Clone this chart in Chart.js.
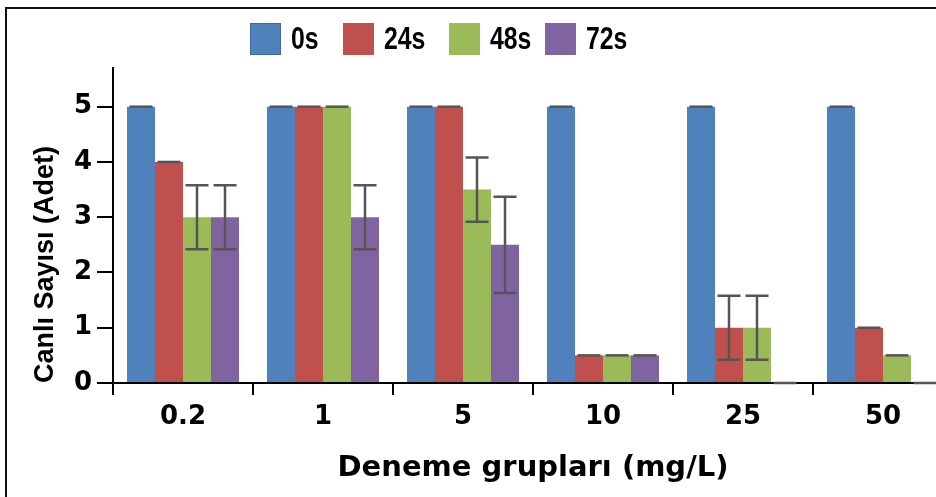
<!DOCTYPE html>
<html>
<head>
<meta charset="utf-8">
<script src="https://cdn.jsdelivr.net/npm/chart.js@4"></script>
<style>
  html, body { margin: 0; padding: 0; background: #fff; }
  #wrap { position: relative; width: 936px; height: 497px; overflow: hidden; background: #fff; }
  #frame { position: absolute; left: 5px; top: 7px; width: 1000px; height: 600px;
           border-left: 2.5px solid #111; border-top: 2.5px solid #111; pointer-events: none; }
  #chart { position: absolute; left: 0; top: 0; }
  .key { position: absolute; top: 23px; height: 32px; display: flex; align-items: center;
         font-family: "Liberation Sans Narrow", "Liberation Sans", Arial, sans-serif;
         font-weight: bold; font-size: 31px; color: #000; white-space: nowrap; }
  .key .box { display: inline-block; width: 31px; height: 32px; margin-right: 10px; box-sizing: border-box; }
  /* squeeze the labels into a narrow face */
  .key .name { display: inline-block; transform: scaleX(0.8); transform-origin: left center; }
</style>
</head>
<body>
<div id="wrap">
  <canvas id="chart" width="960" height="497"></canvas>
  <div id="legend"></div>
  <div id="frame"></div>
</div>
<script>
// concentration groups on the x axis
const groups = ['0.2', '1', '5', '10', '25', '50'];

// sampling times
const seriesNames = ['0s', '24s', '48s', '72s'];
const seriesColors = ['#4F81BD', '#C0504D', '#9BBB59', '#8064A2'];

// mean survivors per group
const alive0 = [5, 5, 5, 5, 5, 5];
const alive24 = [4, 5, 5, 0.5, 1, 1];
const alive48 = [3, 5, 3.5, 0.5, 1, 0.5];
const alive72 = [3, 3, 2.5, 0.5, 0, 0];

// standard errors
const err0 = [0, 0, 0, 0, 0, 0];
const err24 = [0, 0, 0, 0, 0.58, 0];
const err48 = [0.58, 0, 0.58, 0, 0.58, 0];
const err72 = [0.58, 0.58, 0.87, 0, 0, 0];

const yTicks = [0, 1, 2, 3, 4, 5];

const values = [alive0, alive24, alive48, alive72];
const errors = [err0, err24, err48, err72];

// --- legend (html, above the plot) ---
const legendLeft = [250, 343, 449, 545];
const legendEl = document.getElementById('legend');
seriesNames.forEach((name, i) => {
  const item = document.createElement('div');
  item.className = 'key';
  item.style.left = legendLeft[i] + 'px';
  const box = document.createElement('span');
  box.className = 'box';
  box.style.background = seriesColors[i];
  if (i === 0) box.style.border = '1.5px solid #3B6AA3';
  const txt = document.createElement('span');
  txt.className = 'name';
  txt.textContent = name;
  item.appendChild(box);
  item.appendChild(txt);
  legendEl.appendChild(item);
});

// --- error bars, drawn on top of each bar ---
const errorBars = {
  id: 'errorBars',
  afterDatasetsDraw(chart) {
    const ctx = chart.ctx;
    const yScale = chart.scales.y;
    ctx.save();
    ctx.strokeStyle = '#555555';
    ctx.lineWidth = 2.5;
    chart.data.datasets.forEach((ds, i) => {
      const meta = chart.getDatasetMeta(i);
      meta.data.forEach((bar, j) => {
        const v = ds.data[j];
        const e = ds.errors[j];
        const half = 11.5;
        const top = yScale.getPixelForValue(v + e);
        const bottom = yScale.getPixelForValue(v - e);
        ctx.beginPath();
        if (e > 0) {
          ctx.moveTo(bar.x, top);
          ctx.lineTo(bar.x, bottom);
          ctx.moveTo(bar.x - half, bottom);
          ctx.lineTo(bar.x + half, bottom);
        }
        ctx.moveTo(bar.x - half, top);
        ctx.lineTo(bar.x + half, top);
        ctx.stroke();
      });
    });
    ctx.restore();
  }
};

const tickFont = { family: '"DejaVu Sans", sans-serif', size: 26, weight: 'bold' };

const ctx = document.getElementById('chart').getContext('2d');
new Chart(ctx, {
  type: 'bar',
  data: {
    labels: groups,
    datasets: seriesNames.map((name, i) => ({
      label: name,
      data: values[i],
      errors: errors[i],
      backgroundColor: seriesColors[i],
      borderWidth: 0,
      categoryPercentage: 0.8,
      barPercentage: 1.0
    }))
  },
  options: {
    responsive: false,
    animation: false,
    layout: { padding: { top: 68, left: 0, right: 7, bottom: 0 } },
    plugins: {
      legend: { display: false },
      tooltip: { enabled: false }
    },
    scales: {
      x: {
        offset: true,
        afterFit: (scale) => { scale.height = 114; },
        grid: { offset: true, drawOnChartArea: false, drawTicks: true, tickLength: 12, color: '#000', lineWidth: 2 },
        border: { color: '#000', width: 2 },
        ticks: { color: '#000', font: tickFont, padding: 7 },
        title: {
          display: true,
          text: 'Deneme grupları (mg/L)',
          color: '#000',
          font: { family: '"DejaVu Sans", sans-serif', size: 29, weight: 'bold' },
          padding: { top: 0, bottom: 11 }
        }
      },
      y: {
        min: 0,
        max: 5.7,
        afterFit: (scale) => { scale.width = 113; },
        afterBuildTicks: (scale) => { scale.ticks = yTicks.map(v => ({ value: v })); },
        grid: { drawOnChartArea: false, drawTicks: true, tickLength: 16, color: '#000', lineWidth: 2 },
        border: { color: '#000', width: 2 },
        ticks: { color: '#000', font: tickFont, padding: 5, stepSize: 1, includeBounds: false },
        title: {
          display: true,
          text: 'Canlı Sayısı (Adet)',
          align: 'start',
          color: '#000',
          font: { family: '"Liberation Sans", Arial, sans-serif', size: 27, weight: 'bold' },
          padding: { top: 29, bottom: 0 }
        }
      }
    }
  },
  plugins: [errorBars]
});
</script>
</body>
</html>
